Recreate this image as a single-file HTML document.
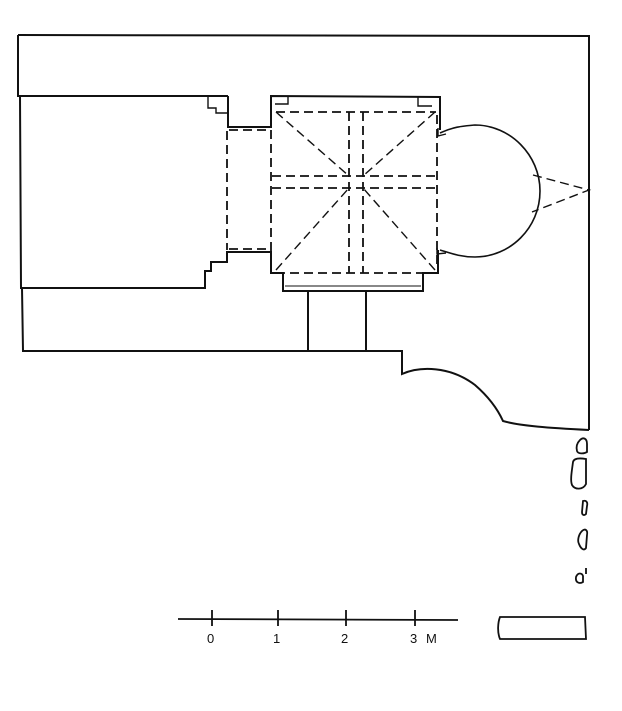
<!DOCTYPE html>
<html><head><meta charset="utf-8"><style>
html,body{margin:0;padding:0;background:#fff;}
svg{display:block}
text{font-family:"Liberation Sans",sans-serif;font-size:13px;fill:#111}
</style></head><body>
<svg width="622" height="711" viewBox="0 0 622 711" xmlns="http://www.w3.org/2000/svg">
<g fill="none" stroke="#111" stroke-width="2" stroke-linejoin="miter">
<path d="M18 35 L589 36 L589 430"/>
<path d="M18 35 L18 96 L228 96"/>
<path d="M20 96 L21 288 L205 288 L205 271 L211 271 L211 262 L227 262 L227 252 L271 252 L271 273 L283 273 L283 291 L423 291 L423 273 L438 273 L438 250"/>
<path d="M228 96 L228 127 L271 127 L271 96 L440 97 L440 130"/>
<path d="M22 288 L23 351 L402 351 L402 374 C420 366 450 366 475 385 C490 398 498 410 503 421 C520 426 550 428 589 430"/>
<path d="M308 291 L308 351 M366 291 L366 351"/>
<path d="M285 286 L421 286" stroke-width="1"/>
<path d="M208 96 L208 108 L216 108 L216 113 L228 113" stroke-width="1.4"/>
<path d="M288 96 L288 104 L275 104" stroke-width="1.4"/>
<path d="M418 97 L418 106 L432 106" stroke-width="1.4"/>
<path d="M440 133 C455 126 465 126 475 125 C510 125 540 155 540 191 C540 228 510 257 475 257 C460 257 450 253 440 250" stroke-width="1.6"/>
<path d="M438 128 L438 136 L446 134" stroke-width="1.4"/>
<path d="M437 248 L437 254 L446 253" stroke-width="1.4"/>
</g>
<g fill="none" stroke="#111" stroke-width="1.8" stroke-dasharray="9,5">
<path d="M227 131 L227 250"/>
<path d="M229 130 L271 130"/>
<path d="M229 249 L271 249"/>
<path d="M271 130 L271 252"/>
<path d="M276 112 L436 112"/>
<path d="M437 115 L437 268"/>
<path d="M276 273 L432 273"/>
<path d="M349 112 L349 273 M363 112 L363 273"/>
<path d="M272 176 L439 176 M272 188 L439 188"/>
<path d="M276 112 L349 176 M435 112 L363 176 M276 270 L349 188 M435 270 L363 188" stroke-width="1.4"/>
<path d="M533 175 L589 190 L532 212" stroke-width="1.4"/>
</g>
<g fill="none" stroke="#111" stroke-width="1.8">
<path d="M580 440 C583 437 587 438 587 444 L587 452 C584 454 578 454 577 451 C576 447 577 443 580 440 Z"/>
<path d="M573 462 C574 458 580 458 586 459 L586 484 C583 490 575 490 572 485 C570 480 572 470 573 462 Z"/>
<path d="M583 501 C586 500 588 502 587 506 L586 514 C584 516 582 515 582 512 Z"/>
<path d="M582 531 C585 528 588 530 587 535 L586 548 C584 551 581 549 579 544 C577 540 579 534 582 531 Z"/>
<path d="M576 577 C578 572 582 573 583 576 L583 582 C580 584 575 583 576 577 Z"/>
<path d="M586 568 L586 574"/>
<path d="M500 617 L585 617 L586 639 L500 639 C497 632 498 622 500 617 Z"/>
<path d="M178 619 L458 620"/>
<path d="M212 610 L212 626 M278 610 L278 626 M346 610 L346 626 M415 610 L415 626"/>
</g>
<text x="207" y="643">0</text>
<text x="273" y="643">1</text>
<text x="341" y="643">2</text>
<text x="410" y="643">3</text>
<text x="426" y="643">M</text>
</svg>
</body></html>
